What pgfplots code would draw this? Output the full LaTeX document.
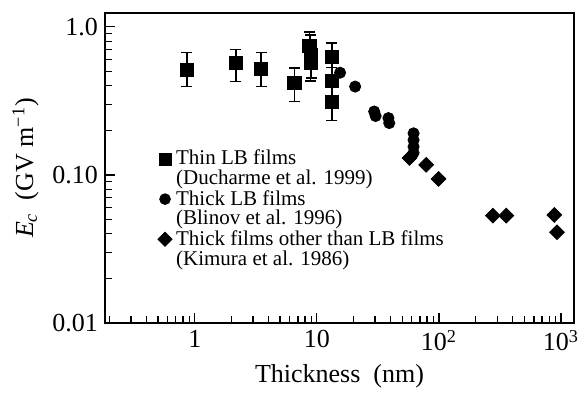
\documentclass[border=0pt]{standalone}
\usepackage{pgfplots}
\pgfplotsset{compat=1.18}
\usepackage{fontspec}
\setmainfont{Liberation Serif}
\begin{document}
\begin{tikzpicture}
\begin{axis}[
  scale only axis, width=234.5pt, height=155pt,
  xmode=log, ymode=log,
  xmin=0.184, xmax=1278, ymin=0.01, ymax=1.24,
  axis line style={line width=1pt},
  tick align=inside, xtick pos=bottom, ytick pos=left,
  major tick length=5pt, minor tick length=3.5pt,
  every tick/.style={line width=0.6pt, black},
  xtick={1,10,100,1000},
  xticklabels={1,10,10\textsuperscript{2},10\textsuperscript{3}},
  minor xtick={0.2,0.3,0.4,0.5,0.6,0.7,0.8,0.9,2,3,4,5,6,7,8,9,20,30,40,50,60,70,80,90,200,300,400,500,600,700,800,900},
  ytick={0.01,0.1,1},
  yticklabels={0.01,0.10,1.0},
  minor ytick={0.02,0.03,0.04,0.05,0.06,0.07,0.08,0.09,0.2,0.3,0.4,0.5,0.6,0.7,0.8,0.9},
  ticklabel style={font=\fontsize{13}{15}\selectfont},
  label style={font=\fontsize{13}{15}\selectfont},
  xlabel={Thickness\ \ (nm)},
  ylabel={\textit{E}\textsubscript{\textit{c}}\ \ (GV m\textsuperscript{−1})},
  legend style={at={(rel axis cs:0.078,0.585)}, anchor=north west, draw=none, fill=none,
    font=\fontsize{10.5}{11.5}\selectfont, row sep=-2.8pt},
  legend cell align=left,
]
\addlegendimage{only marks, mark=square*, mark size=3pt, black}
\addlegendentry{Thin LB films}
\addlegendimage{empty legend}
\addlegendentry{(Ducharme et al. 1999)}
\addlegendimage{only marks, mark=*, mark size=2.7pt, black}
\addlegendentry{Thick LB films}
\addlegendimage{empty legend}
\addlegendentry{(Blinov et al. 1996)}
\addlegendimage{only marks, mark=square*, mark size=2.5pt, mark options={rotate=45}, black}
\addlegendentry{Thick films other than LB films}
\addlegendimage{empty legend}
\addlegendentry{(Kimura et al. 1986)}

% Thin LB films with error bars
\addplot[forget plot, only marks, black, mark=square*, mark size=3.3pt,
  mark options={fill=black, draw=black},
  error bars/.cd, y dir=both, y explicit, error mark options={line width=0.8pt, rotate=90, mark size=2.75pt},
  error bar style={line width=0.8pt}]
coordinates {
 (0.86,0.51) += (0,0.16) -= (0,0.115)
 (2.17,0.574) += (0,0.13) -= (0,0.147)
 (3.5,0.52) += (0,0.15) -= (0,0.125)
 (6.55,0.417) += (0,0.11) -= (0,0.104)
 (8.7,0.74) += (0,0.18) -= (0,0.17)
 (8.9,0.65) += (0,0.23) -= (0,0.22)
 (9.0,0.57) += (0,0.15) -= (0,0.12)
 (13.3,0.63) += (0,0.15) -= (0,0.10)
 (13.3,0.43) += (0,0.10) -= (0,0.10)
 (13.3,0.31) += (0,0.10) -= (0,0.077)
};
% Thick LB films
\addplot[forget plot, only marks, black, mark=*, mark size=2.8pt, mark options={fill=black, draw=black}]
coordinates {
 (15.5,0.49) (20.6,0.395) (29.5,0.268) (30.3,0.25) (38.6,0.242) (39.2,0.224)
 (62,0.191) (62,0.172) (62,0.155) (62,0.141)
};
% Thick films other than LB
\addplot[forget plot, only marks, black, mark=square*, mark size=2.6pt, mark options={rotate=45, fill=black, draw=black}]
coordinates {
 (57.4,0.130) (78.7,0.117) (99.3,0.094) (277,0.0531) (356,0.0531) (881,0.0537) (927,0.041)
};
\end{axis}
\path ([shift={(-52.5pt,-34.5pt)}]current axis.south west) rectangle ([shift={(6.5pt,6.5pt)}]current axis.north east);
\end{tikzpicture}
\end{document}
